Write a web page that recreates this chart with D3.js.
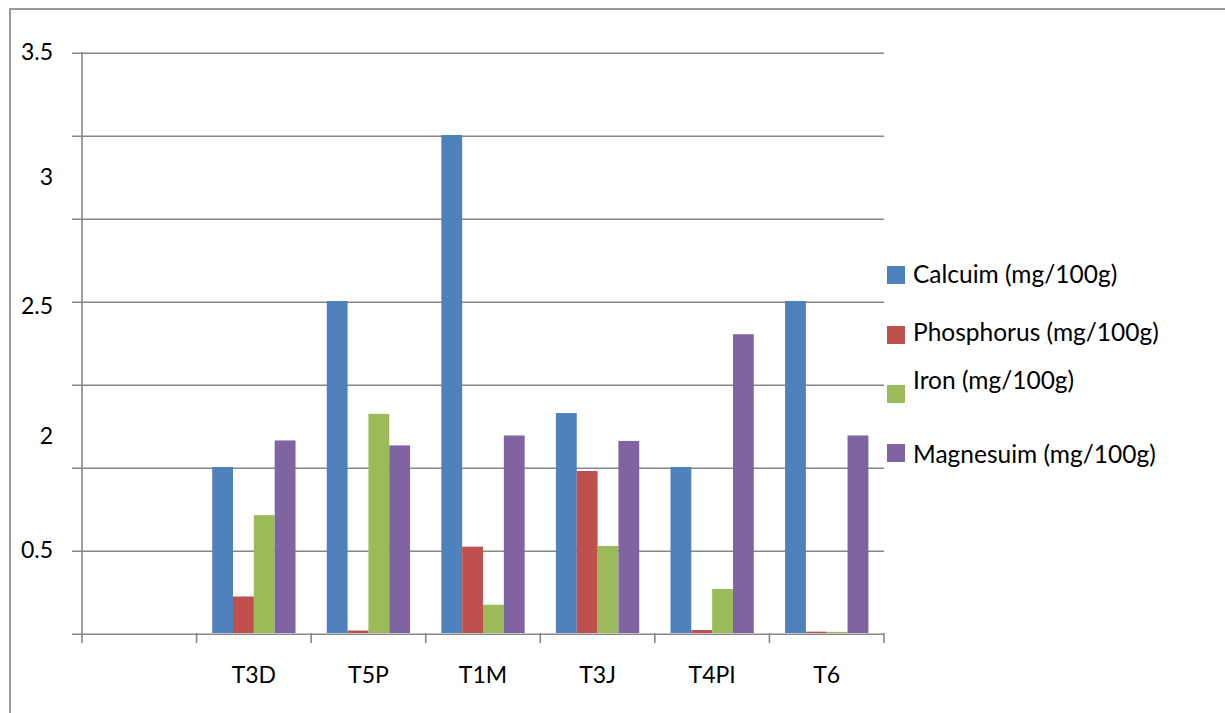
<!DOCTYPE html>
<html>
<head>
<meta charset="utf-8">
<script src="https://cdn.jsdelivr.net/npm/d3@7"></script>
<style>
  html, body { margin: 0; padding: 0; background: #fff; }
  svg { display: block; }
  text { font-family: Lato, "Open Sans", sans-serif; fill: #000; }
</style>
</head>
<body>
<svg id="chart" width="1225" height="713"></svg>
<script>
// Samples along the category axis (the first slot is left blank)
const categories = ["", "T3D", "T5P", "T1M", "T3J", "T4PI", "T6"];

// Series names as shown in the legend
const seriesNames = [
  "Calcuim (mg/100g)",
  "Phosphorus (mg/100g)",
  "Iron (mg/100g)",
  "Magnesuim (mg/100g)"
];

// Mineral content per sample (mg/100g)
const calcium    = [null, 1.00, 2.00, 3.00, 1.325, 1.00, 2.00];
const phosphorus = [null, 0.22, 0.015, 0.52, 0.976, 0.018, 0.008];
const iron       = [null, 0.71, 1.32, 0.17, 0.524, 0.265, 0.007];
const magnesium  = [null, 1.16, 1.13, 1.19, 1.157, 1.80, 1.19];

// Y-axis label texts and the axis values they sit at
const yLabelTexts  = ["3.5", "3", "2.5", "2", "0.5"];
const yLabelValues = [3.5, 2.75, 1.97, 1.19, 0.5];

const seriesValues = [calcium, phosphorus, iron, magnesium];
const colors = ["#4F81BD", "#C0504D", "#9BBB59", "#8064A2"];

const svg = d3.select("#chart");

// Outer chart frame (runs off the right and bottom edges)
svg.append("rect")
  .attr("x", 10).attr("y", 9)
  .attr("width", 1240).attr("height", 730)
  .attr("fill", "none")
  .attr("stroke", "#9a9a9a")
  .attr("stroke-width", 2);

const plot = { left: 82, right: 884, top: 52, bottom: 633 };

const y = d3.scaleLinear().domain([0, 3.5]).range([plot.bottom, plot.top]);
const x = d3.scaleBand().domain(categories).range([plot.left, plot.right])
  .paddingInner(0).paddingOuter(0);
const xs = d3.scaleBand().domain(d3.range(seriesNames.length))
  .range([0, x.bandwidth()]).paddingInner(0).paddingOuter(0.75);

const gridColor = "#878787";

// Horizontal gridlines with their small outward ticks
const yAxis = d3.axisLeft(y)
  .tickValues(y.ticks(7))
  .tickSize(-(plot.right - plot.left + 10))
  .tickFormat("");
const gy = svg.append("g")
  .attr("transform", `translate(${plot.left - 10},0.8)`)
  .call(yAxis);
gy.select(".domain").remove();
gy.selectAll(".tick line")
  .attr("stroke", gridColor)
  .attr("stroke-width", 1.6);

// Vertical value axis line
svg.append("line")
  .attr("x1", plot.left).attr("x2", plot.left)
  .attr("y1", plot.top).attr("y2", plot.bottom)
  .attr("stroke", gridColor).attr("stroke-width", 1.6);

// Category boundary ticks below the baseline
const boundaries = categories.map(c => x(c)).concat([plot.right]);
svg.append("g").selectAll("line")
  .data(boundaries)
  .join("line")
  .attr("x1", d => d).attr("x2", d => d)
  .attr("y1", plot.bottom).attr("y2", plot.bottom + 10)
  .attr("stroke", gridColor).attr("stroke-width", 1.6);

// Y labels
svg.append("g").selectAll("text")
  .data(yLabelTexts)
  .join("text")
  .attr("x", 53)
  .attr("y", (d, i) => y(yLabelValues[i]))
  .attr("dy", "0.35em")
  .attr("text-anchor", "end")
  .attr("font-size", 23)
  .text(d => d);

// Bars
const groups = svg.append("g").selectAll("g")
  .data(seriesValues)
  .join("g")
  .attr("fill", (d, i) => colors[i]);

groups.each(function (vals, si) {
  d3.select(this).selectAll("rect")
    .data(categories.map((c, ci) => ({ c, v: vals[ci] })).filter(d => d.v != null))
    .join("rect")
    .attr("x", d => x(d.c) + xs(si))
    .attr("width", xs.bandwidth())
    .attr("y", d => y(d.v))
    .attr("height", d => y(0) - y(d.v));
});

// Category labels
svg.append("g").selectAll("text")
  .data(categories)
  .join("text")
  .attr("x", d => x(d) + x.bandwidth() / 2)
  .attr("y", 683)
  .attr("text-anchor", "middle")
  .attr("font-size", 23)
  .text(d => d);

// Legend
const legendCenters = [275, 335, 394, 453];
const legendTextShift = [8, 6, -5, 9.5];
const legend = svg.append("g").selectAll("g")
  .data(seriesNames)
  .join("g");
legend.append("rect")
  .attr("x", 887)
  .attr("y", (d, i) => legendCenters[i] - 9)
  .attr("width", 18).attr("height", 18)
  .attr("fill", (d, i) => colors[i]);
legend.append("text")
  .attr("x", 913)
  .attr("y", (d, i) => legendCenters[i] + legendTextShift[i])
  .attr("font-size", 24.5)
  .text(d => d);
</script>
</body>
</html>
